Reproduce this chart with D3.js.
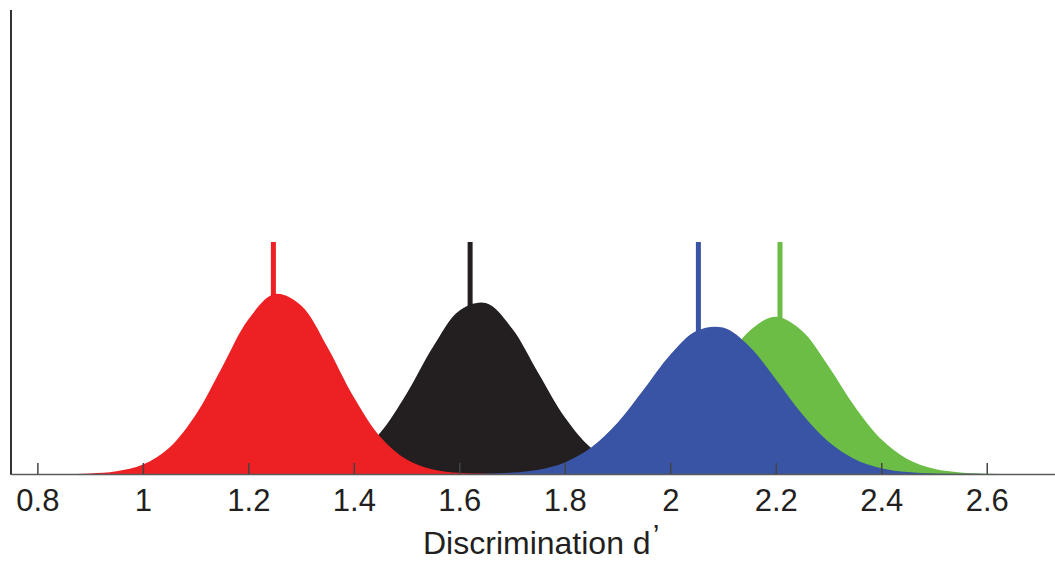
<!DOCTYPE html>
<html>
<head>
<meta charset="utf-8">
<script src="https://cdn.jsdelivr.net/npm/d3@7"></script>
<style>
  html, body { margin: 0; padding: 0; background: #fff; }
  svg { display: block; font-family: Arial, "Liberation Sans", sans-serif; }
</style>
</head>
<body>
<div id="chart"></div>
<script>
// d' values at which the posterior densities were read
const dGrid = [
  0.75, 0.80, 0.85, 0.90, 0.95, 1.00, 1.05, 1.10, 1.15, 1.20,
  1.25, 1.30, 1.35, 1.40, 1.45, 1.50, 1.55, 1.60, 1.65, 1.70,
  1.75, 1.80, 1.85, 1.90, 1.95, 2.00, 2.05, 2.10, 2.15, 2.20,
  2.25, 2.30, 2.35, 2.40, 2.45, 2.50, 2.55, 2.60, 2.65, 2.70
];

const redDensity = [
  0, 0, 0.002, 0.012, 0.053, 0.183, 0.511, 1.146, 2.067, 2.996,
  3.490, 3.268, 2.460, 1.489, 0.724, 0.283, 0.089, 0.022, 0.005, 0.001,
  0, 0, 0, 0, 0, 0, 0, 0, 0, 0,
  0, 0, 0, 0, 0, 0, 0, 0, 0, 0
];

const blackDensity = [
  0, 0, 0, 0, 0, 0, 0, 0, 0, 0.001,
  0.007, 0.031, 0.114, 0.335, 0.800, 1.557, 2.462, 3.168, 3.315, 2.822,
  1.954, 1.100, 0.504, 0.188, 0.057, 0.014, 0.003, 0, 0, 0,
  0, 0, 0, 0, 0, 0, 0, 0, 0, 0
];

const blueDensity = [
  0, 0, 0, 0, 0, 0, 0, 0, 0, 0,
  0, 0, 0, 0, 0, 0, 0, 0.002, 0.007, 0.027,
  0.084, 0.225, 0.513, 0.994, 1.643, 2.314, 2.777, 2.840, 2.475, 1.838,
  1.163, 0.627, 0.288, 0.113, 0.038, 0.011, 0.003, 0, 0, 0
];

const greenDensity = [
  0, 0, 0, 0, 0, 0, 0, 0, 0, 0,
  0, 0, 0, 0, 0, 0, 0, 0, 0, 0,
  0.001, 0.007, 0.030, 0.102, 0.287, 0.672, 1.303, 2.091, 2.776, 3.051,
  2.776, 2.091, 1.303, 0.672, 0.287, 0.102, 0.030, 0.007, 0.001, 0
];

// point estimates shown as vertical markers
const markerValues = { red: 1.2475, black: 1.6205, blue: 2.0533, green: 2.208 };
const markerTop = 4.5;

const xTicks = [0.8, 1, 1.2, 1.4, 1.6, 1.8, 2, 2.2, 2.4, 2.6];
const xTickLabels = ["0.8", "1", "1.2", "1.4", "1.6", "1.8", "2", "2.2", "2.4", "2.6"];

const colors = { red: "#ed2024", black: "#231f20", blue: "#3954a5", green: "#6cbd45" };

const width = 1055, height = 561;
const baseY = 474, topY = 10, leftX = 11;

const svg = d3.select("#chart").append("svg")
  .attr("width", width)
  .attr("height", height);

const x = d3.scaleLinear().domain([0.75, 2.73]).range([leftX, 1055.3]);
const y = d3.scaleLinear().domain([0, 9]).range([baseY, topY]);

const densities = { red: redDensity, black: blackDensity, blue: blueDensity, green: greenDensity };
// drawing order: green under blue, black under red and blue
const drawOrder = ["green", "black", "red", "blue"];

// markers go underneath the areas
svg.append("g").selectAll("line")
  .data(drawOrder)
  .join("line")
    .attr("x1", k => x(markerValues[k]))
    .attr("x2", k => x(markerValues[k]))
    .attr("y1", y(markerTop))
    .attr("y2", y(0))
    .attr("stroke", k => colors[k])
    .attr("stroke-width", 5);

svg.append("clipPath").attr("id", "plotClip")
  .append("rect")
    .attr("x", leftX).attr("y", topY)
    .attr("width", width - leftX).attr("height", baseY - topY);

const area = d3.area()
  .x((d, i) => x(dGrid[i]))
  .y0(y(0))
  .y1(d => y(Math.max(0, d)))
  .curve(d3.curveCatmullRom);

svg.append("g")
  .attr("clip-path", "url(#plotClip)")
  .selectAll("path")
  .data(drawOrder)
  .join("path")
    .attr("d", k => area(densities[k]))
    .attr("fill", k => colors[k]);

// x axis with inward ticks
const xAxis = svg.append("g")
  .attr("transform", `translate(0,${baseY})`)
  .call(d3.axisBottom(x)
    .tickValues(xTicks)
    .tickFormat((d, i) => xTickLabels[i])
    .tickSizeInner(-11)
    .tickSizeOuter(0)
    .tickPadding(15));

xAxis.select(".domain")
  .attr("stroke", "#5a5a5a")
  .attr("stroke-width", 1.5);
xAxis.selectAll(".tick line")
  .attr("stroke", "#444")
  .attr("stroke-width", 1.5);
xAxis.selectAll(".tick text")
  .attr("fill", "#231f20")
  .style("font-size", "31px")
  .style("font-family", "Arial, 'Liberation Sans', sans-serif");

// y axis: a bare line
svg.append("line")
  .attr("x1", leftX).attr("x2", leftX)
  .attr("y1", topY).attr("y2", baseY + 0.75)
  .attr("stroke", "#333")
  .attr("stroke-width", 2);

// axis title
const title = svg.append("text")
  .attr("x", 423)
  .attr("y", 554)
  .attr("text-anchor", "start")
  .attr("fill", "#231f20")
  .style("font-size", "32px")
  .text("Discrimination d");
title.append("tspan")
  .attr("dx", 2)
  .attr("dy", -9)
  .style("font-size", "30px")
  .text("\u2019");
</script>
</body>
</html>
